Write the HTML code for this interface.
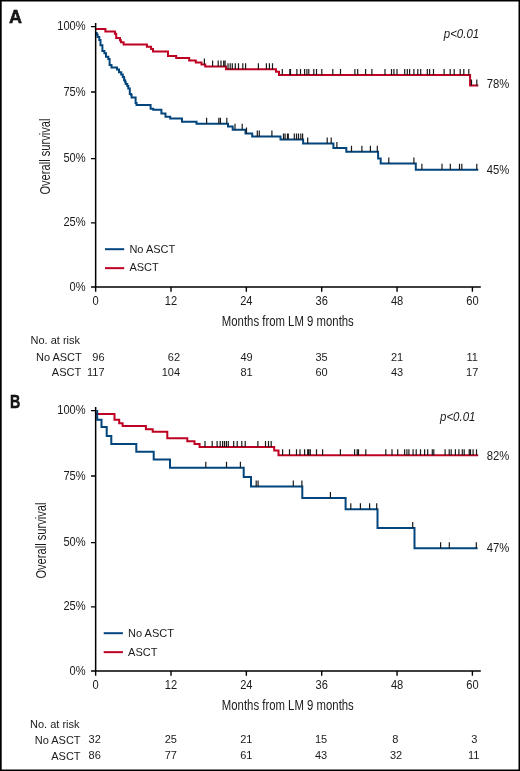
<!DOCTYPE html>
<html><head><meta charset="utf-8"><style>
html,body{margin:0;padding:0;background:#fff;}
svg{display:block;will-change:transform;}
text{font-family:"Liberation Sans", sans-serif;fill:#1a1a1a;}
</style></head><body>
<svg width="520" height="771" viewBox="0 0 520 771">
<rect x="0" y="0" width="520" height="771" fill="#fff"/>
<text x="9.1" y="23.2" font-weight="bold" font-size="18" textLength="13.0" lengthAdjust="spacingAndGlyphs" stroke="#000" stroke-width="0.45">A</text>
<text x="85.6" y="30.10" text-anchor="end" font-size="12.2" textLength="28.39" lengthAdjust="spacingAndGlyphs">100%</text>
<text x="85.6" y="95.50" text-anchor="end" font-size="12.2" textLength="22.22" lengthAdjust="spacingAndGlyphs">75%</text>
<text x="85.6" y="162.10" text-anchor="end" font-size="12.2" textLength="22.22" lengthAdjust="spacingAndGlyphs">50%</text>
<text x="85.6" y="226.40" text-anchor="end" font-size="12.2" textLength="22.22" lengthAdjust="spacingAndGlyphs">25%</text>
<text x="85.6" y="290.50" text-anchor="end" font-size="12.2" textLength="16.04" lengthAdjust="spacingAndGlyphs">0%</text>
<text x="95.65" y="305.30" text-anchor="middle" font-size="12.2" textLength="6.17" lengthAdjust="spacingAndGlyphs">0</text>
<text x="171.00" y="305.30" text-anchor="middle" font-size="12.2" textLength="12.35" lengthAdjust="spacingAndGlyphs">12</text>
<text x="246.35" y="305.30" text-anchor="middle" font-size="12.2" textLength="12.35" lengthAdjust="spacingAndGlyphs">24</text>
<text x="321.70" y="305.30" text-anchor="middle" font-size="12.2" textLength="12.35" lengthAdjust="spacingAndGlyphs">36</text>
<text x="397.05" y="305.30" text-anchor="middle" font-size="12.2" textLength="12.35" lengthAdjust="spacingAndGlyphs">48</text>
<text x="472.40" y="305.30" text-anchor="middle" font-size="12.2" textLength="12.35" lengthAdjust="spacingAndGlyphs">60</text>
<text x="221.8" y="326.30" font-size="13.8" textLength="132" lengthAdjust="spacingAndGlyphs">Months from LM 9 months</text>
<text transform="translate(49.60 194.60) rotate(-90)" x="0" y="0" font-size="13.8" textLength="76" lengthAdjust="spacingAndGlyphs">Overall survival</text>
<text x="443.80" y="38.00" font-style="italic" font-size="12.3" textLength="35.4" lengthAdjust="spacingAndGlyphs">p&lt;0.01</text>
<text x="486.7" y="87.50" font-size="12.2" textLength="22.62" lengthAdjust="spacingAndGlyphs">78%</text>
<text x="486.7" y="173.90" font-size="12.2" textLength="22.62" lengthAdjust="spacingAndGlyphs">45%</text>
<path d="M105.00 249.20 H124.20" stroke="#02457c" stroke-width="2" fill="none"/>
<path d="M105.00 268.15 H124.20" stroke="#be0022" stroke-width="2" fill="none"/>
<text x="129.40" y="252.50" font-size="11">No ASCT</text>
<text x="129.40" y="271.20" font-size="11">ASCT</text>
<path d="M96.00 29.00 H105.40 V31.50 H114.90 V33.80 H116.20 V38.10 H120.00 V40.20 H120.90 V42.30 H123.60 V44.60 H146.90 V46.80 H151.10 V49.10 H153.00 V51.40 H168.00 V56.00 H176.20 V58.00 H189.20 V60.50 H195.80 V62.40 H201.50 V64.50 H205.20 V66.40 H226.00 V69.30 H276.00 V71.80 H279.00 V74.90 H470.10 V85.50 H477.30" stroke="#be0022" stroke-width="2" fill="none" stroke-linejoin="miter" stroke-linecap="square"/>
<path d="M96.70 33.00 V34.60 H97.60 V36.90 H99.30 V39.90 H100.50 V45.20 H102.40 V50.90 H104.40 V53.20 H106.00 V56.80 H108.30 V59.00 H109.60 V64.90 H111.50 V67.50 H117.00 V69.40 H119.00 V72.30 H121.20 V74.60 H122.80 V77.00 H124.10 V80.20 H125.10 V81.80 H125.70 V84.10 H127.30 V86.00 H128.30 V88.60 H129.80 V94.10 H131.20 V95.10 H131.60 V97.40 H135.60 V102.90 H136.50 V104.90 H150.60 V108.80 H153.20 V109.80 H161.40 V113.40 H165.50 V116.80 H170.20 V118.50 H182.00 V121.80 H196.50 V123.80 H228.00 V126.60 H232.70 V129.70 H245.50 V133.40 H252.20 V136.40 H280.50 V139.60 H303.10 V143.50 H333.40 V148.10 H346.30 V151.80 H378.10 V158.50 H380.70 V163.50 H415.80 V169.70 H477.30" stroke="#02457c" stroke-width="2" fill="none" stroke-linejoin="miter" stroke-linecap="square"/>
<path d="M206.60 117.80 V123.80 M218.80 117.80 V123.80 M220.40 117.80 V123.80 M226.80 117.80 V123.80 M235.00 123.70 V129.70 M242.20 123.70 V129.70 M246.50 127.40 V133.40 M257.30 130.40 V136.40 M259.30 130.40 V136.40 M271.90 130.40 V136.40 M283.50 133.60 V139.60 M285.10 133.60 V139.60 M287.50 133.60 V139.60 M288.30 133.60 V139.60 M294.30 133.60 V139.60 M296.50 133.60 V139.60 M298.50 133.60 V139.60 M300.80 133.60 V139.60 M302.60 133.60 V139.60 M307.70 137.50 V143.50 M327.20 137.50 V143.50 M331.20 137.50 V143.50 M336.90 142.10 V148.10 M351.50 145.80 V151.80 M361.90 145.80 V151.80 M370.40 145.80 V151.80 M377.30 145.80 V151.80 M388.80 157.50 V163.50 M413.90 157.50 V163.50 M421.90 163.70 V169.70 M442.00 163.70 V169.70 M450.30 163.70 V169.70 M459.50 163.70 V169.70 M461.80 163.70 V169.70 M476.80 163.70 V169.70" stroke="#1a1a1a" stroke-width="1.2" fill="none"/>
<path d="M204.40 58.50 V64.50 M212.60 60.40 V66.40 M218.20 60.40 V66.40 M221.00 60.40 V66.40 M223.70 60.40 V66.40 M225.10 60.40 V66.40 M228.00 63.30 V69.30 M230.20 63.30 V69.30 M232.30 63.30 V69.30 M235.30 63.30 V69.30 M238.50 63.30 V69.30 M242.80 63.30 V69.30 M245.60 63.30 V69.30 M258.40 63.30 V69.30 M266.40 63.30 V69.30 M269.40 63.30 V69.30 M272.50 63.30 V69.30 M282.30 68.90 V74.90 M289.80 68.90 V74.90 M290.50 68.90 V74.90 M296.90 68.90 V74.90 M300.50 68.90 V74.90 M304.60 68.90 V74.90 M306.90 68.90 V74.90 M308.80 68.90 V74.90 M313.80 68.90 V74.90 M316.50 68.90 V74.90 M321.80 68.90 V74.90 M332.80 68.90 V74.90 M340.50 68.90 V74.90 M354.90 68.90 V74.90 M357.70 68.90 V74.90 M365.60 68.90 V74.90 M371.90 68.90 V74.90 M385.00 68.90 V74.90 M391.50 68.90 V74.90 M393.90 68.90 V74.90 M397.00 68.90 V74.90 M404.70 68.90 V74.90 M407.30 68.90 V74.90 M409.60 68.90 V74.90 M413.90 68.90 V74.90 M417.80 68.90 V74.90 M420.70 68.90 V74.90 M427.30 68.90 V74.90 M429.60 68.90 V74.90 M433.50 68.90 V74.90 M444.10 68.90 V74.90 M450.20 68.90 V74.90 M454.20 68.90 V74.90 M460.20 68.90 V74.90 M463.80 68.90 V74.90 M468.80 68.90 V74.90 M471.50 79.50 V85.50 M476.80 79.50 V85.50" stroke="#1a1a1a" stroke-width="1.2" fill="none"/>
<path d="M95.65 23.00 V287.75 M95 287.00 H480.8" stroke="#000" stroke-width="1.5" fill="none"/>
<path d="M91 26.60 H96 M91 92.00 H96 M91 158.60 H96 M91 222.90 H96 M91 287.00 H96 M95.65 287.00 V291.70 M171.00 287.00 V291.70 M246.35 287.00 V291.70 M321.70 287.00 V291.70 M397.05 287.00 V291.70 M472.40 287.00 V291.70" stroke="#000" stroke-width="1.4" fill="none"/>
<text x="30.50" y="343.80" font-size="11" text-anchor="start">No. at risk</text>
<text x="81.80" y="361.00" font-size="11" text-anchor="end">No ASCT</text>
<text x="81.20" y="375.50" font-size="11" text-anchor="end">ASCT</text>
<text x="104.60" y="361.30" font-size="11" text-anchor="end">96</text>
<text x="104.60" y="375.90" font-size="11" text-anchor="end">117</text>
<text x="180.10" y="361.30" font-size="11" text-anchor="end">62</text>
<text x="180.10" y="375.90" font-size="11" text-anchor="end">104</text>
<text x="246.50" y="361.30" font-size="11" text-anchor="middle">49</text>
<text x="246.50" y="375.90" font-size="11" text-anchor="middle">81</text>
<text x="321.60" y="361.30" font-size="11" text-anchor="middle">35</text>
<text x="321.60" y="375.90" font-size="11" text-anchor="middle">60</text>
<text x="397.00" y="361.30" font-size="11" text-anchor="middle">21</text>
<text x="397.00" y="375.90" font-size="11" text-anchor="middle">43</text>
<text x="472.20" y="361.30" font-size="11" text-anchor="middle">11</text>
<text x="472.20" y="375.90" font-size="11" text-anchor="middle">17</text>
<text x="9.9" y="407.6" font-weight="bold" font-size="18" textLength="10.3" lengthAdjust="spacingAndGlyphs" stroke="#000" stroke-width="0.45">B</text>
<text x="85.6" y="414.10" text-anchor="end" font-size="12.2" textLength="28.39" lengthAdjust="spacingAndGlyphs">100%</text>
<text x="85.6" y="479.50" text-anchor="end" font-size="12.2" textLength="22.22" lengthAdjust="spacingAndGlyphs">75%</text>
<text x="85.6" y="546.10" text-anchor="end" font-size="12.2" textLength="22.22" lengthAdjust="spacingAndGlyphs">50%</text>
<text x="85.6" y="610.40" text-anchor="end" font-size="12.2" textLength="22.22" lengthAdjust="spacingAndGlyphs">25%</text>
<text x="85.6" y="674.50" text-anchor="end" font-size="12.2" textLength="16.04" lengthAdjust="spacingAndGlyphs">0%</text>
<text x="95.65" y="689.30" text-anchor="middle" font-size="12.2" textLength="6.17" lengthAdjust="spacingAndGlyphs">0</text>
<text x="171.00" y="689.30" text-anchor="middle" font-size="12.2" textLength="12.35" lengthAdjust="spacingAndGlyphs">12</text>
<text x="246.35" y="689.30" text-anchor="middle" font-size="12.2" textLength="12.35" lengthAdjust="spacingAndGlyphs">24</text>
<text x="321.70" y="689.30" text-anchor="middle" font-size="12.2" textLength="12.35" lengthAdjust="spacingAndGlyphs">36</text>
<text x="397.05" y="689.30" text-anchor="middle" font-size="12.2" textLength="12.35" lengthAdjust="spacingAndGlyphs">48</text>
<text x="472.40" y="689.30" text-anchor="middle" font-size="12.2" textLength="12.35" lengthAdjust="spacingAndGlyphs">60</text>
<text x="221.8" y="710.30" font-size="13.8" textLength="132" lengthAdjust="spacingAndGlyphs">Months from LM 9 months</text>
<text transform="translate(46.30 578.60) rotate(-90)" x="0" y="0" font-size="13.8" textLength="76" lengthAdjust="spacingAndGlyphs">Overall survival</text>
<text x="440.00" y="421.40" font-style="italic" font-size="12.3" textLength="35.4" lengthAdjust="spacingAndGlyphs">p&lt;0.01</text>
<text x="486.7" y="459.70" font-size="12.2" textLength="22.62" lengthAdjust="spacingAndGlyphs">82%</text>
<text x="486.7" y="552.10" font-size="12.2" textLength="22.62" lengthAdjust="spacingAndGlyphs">47%</text>
<path d="M103.70 633.20 H122.90" stroke="#02457c" stroke-width="2" fill="none"/>
<path d="M103.70 652.15 H122.90" stroke="#be0022" stroke-width="2" fill="none"/>
<text x="128.10" y="636.90" font-size="11">No ASCT</text>
<text x="128.10" y="655.60" font-size="11">ASCT</text>
<path d="M96.00 413.90 H114.50 V419.80 H119.20 V423.20 H122.60 V426.10 H145.90 V429.30 H152.70 V431.70 H167.30 V438.20 H187.30 V441.20 H194.50 V444.00 H199.60 V447.00 H274.20 V450.60 H278.50 V455.30 H477.20" stroke="#be0022" stroke-width="2" fill="none" stroke-linejoin="miter" stroke-linecap="square"/>
<path d="M97.20 411.00 V419.80 H101.50 V426.90 H106.70 V435.90 H111.30 V444.00 H136.30 V451.80 H153.70 V459.60 H170.00 V467.70 H243.70 V476.90 H251.00 V486.50 H302.30 V498.10 H345.60 V509.30 H377.50 V528.10 H414.50 V548.30 H476.60" stroke="#02457c" stroke-width="2" fill="none" stroke-linejoin="miter" stroke-linecap="square"/>
<path d="M205.80 461.70 V467.70 M226.50 461.70 V467.70 M240.40 461.70 V467.70 M256.20 480.50 V486.50 M258.10 480.50 V486.50 M293.30 480.50 V486.50 M301.90 480.50 V486.50 M330.40 492.10 V498.10 M350.80 503.30 V509.30 M360.40 503.30 V509.30 M369.60 503.30 V509.30 M376.70 503.30 V509.30 M412.70 522.10 V528.10 M440.60 542.30 V548.30 M449.30 542.30 V548.30 M476.30 542.30 V548.30" stroke="#1a1a1a" stroke-width="1.2" fill="none"/>
<path d="M205.00 441.00 V447.00 M212.20 441.00 V447.00 M217.10 441.00 V447.00 M220.20 441.00 V447.00 M222.60 441.00 V447.00 M224.50 441.00 V447.00 M226.40 441.00 V447.00 M228.30 441.00 V447.00 M233.70 441.00 V447.00 M237.20 441.00 V447.00 M241.80 441.00 V447.00 M245.20 441.00 V447.00 M257.90 441.00 V447.00 M265.50 441.00 V447.00 M268.50 441.00 V447.00 M271.20 441.00 V447.00 M282.60 449.30 V455.30 M289.50 449.30 V455.30 M296.50 449.30 V455.30 M300.00 449.30 V455.30 M304.60 449.30 V455.30 M307.70 449.30 V455.30 M308.80 449.30 V455.30 M310.30 449.30 V455.30 M316.50 449.30 V455.30 M322.60 449.30 V455.30 M340.40 449.30 V455.30 M354.60 449.30 V455.30 M357.20 449.30 V455.30 M358.50 449.30 V455.30 M365.80 449.30 V455.30 M385.80 449.30 V455.30 M392.00 449.30 V455.30 M397.70 449.30 V455.30 M404.60 449.30 V455.30 M406.90 449.30 V455.30 M408.90 449.30 V455.30 M413.10 449.30 V455.30 M416.20 449.30 V455.30 M420.50 449.30 V455.30 M424.60 449.30 V455.30 M427.70 449.30 V455.30 M432.30 449.30 V455.30 M433.80 449.30 V455.30 M445.10 449.30 V455.30 M449.20 449.30 V455.30 M451.20 449.30 V455.30 M455.40 449.30 V455.30 M458.90 449.30 V455.30 M462.30 449.30 V455.30 M464.20 449.30 V455.30 M469.20 449.30 V455.30 M470.50 449.30 V455.30 M473.10 449.30 V455.30 M476.50 449.30 V455.30" stroke="#1a1a1a" stroke-width="1.2" fill="none"/>
<path d="M95.65 407.00 V671.75 M95 671.00 H480.8" stroke="#000" stroke-width="1.5" fill="none"/>
<path d="M91 410.60 H96 M91 476.00 H96 M91 542.60 H96 M91 606.90 H96 M91 671.00 H96 M95.65 671.00 V675.70 M171.00 671.00 V675.70 M246.35 671.00 V675.70 M321.70 671.00 V675.70 M397.05 671.00 V675.70 M472.40 671.00 V675.70" stroke="#000" stroke-width="1.4" fill="none"/>
<text x="30.00" y="728.00" font-size="11" text-anchor="start">No. at risk</text>
<text x="80.60" y="744.20" font-size="11" text-anchor="end">No ASCT</text>
<text x="80.60" y="759.80" font-size="11" text-anchor="end">ASCT</text>
<text x="88.60" y="743.30" font-size="11" text-anchor="start">32</text>
<text x="88.60" y="759.10" font-size="11" text-anchor="start">86</text>
<text x="170.80" y="743.30" font-size="11" text-anchor="middle">25</text>
<text x="170.80" y="759.10" font-size="11" text-anchor="middle">77</text>
<text x="246.30" y="743.30" font-size="11" text-anchor="middle">21</text>
<text x="246.30" y="759.10" font-size="11" text-anchor="middle">61</text>
<text x="321.10" y="743.30" font-size="11" text-anchor="middle">15</text>
<text x="321.10" y="759.10" font-size="11" text-anchor="middle">43</text>
<text x="395.20" y="743.30" font-size="11" text-anchor="middle">8</text>
<text x="396.00" y="759.10" font-size="11" text-anchor="middle">32</text>
<text x="474.40" y="743.30" font-size="11" text-anchor="middle">3</text>
<text x="473.60" y="759.10" font-size="11" text-anchor="middle">11</text>
<path d="M0 0 H520 V771 H0 Z M1.7 1.4 V769.5 H518.5 V1.4 Z" fill="#000" fill-rule="evenodd"/>
</svg>
</body></html>
